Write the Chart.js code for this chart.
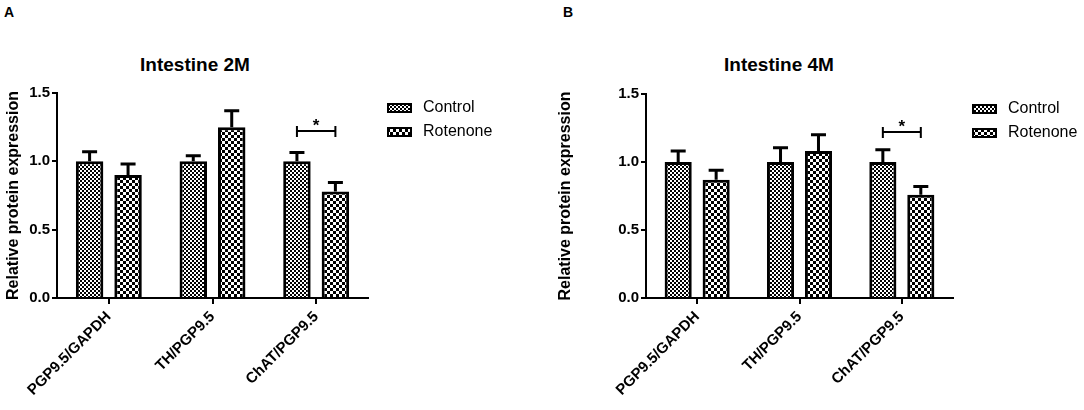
<!DOCTYPE html>
<html>
<head>
<meta charset="utf-8">
<script src="https://cdn.jsdelivr.net/npm/chart.js@4"></script>
<style>
  body { margin: 0; background: #fff; font-family: "Liberation Sans", Arial, sans-serif; }
  #wrap { position: relative; width: 1084px; height: 410px; overflow: hidden; }
  canvas { position: absolute; top: 0; }
  .letter { position: absolute; top: 4px; font-weight: bold; font-size: 14px; }
  .title { position: absolute; top: 54px; width: 240px; text-align: center; font-weight: bold; font-size: 19px; }
</style>
</head>
<body>
<div id="wrap">
  <div class="letter" style="left:4px">A</div>
  <div class="letter" style="left:563px">B</div>
  <div class="title" style="left:75px">Intestine 2M</div>
  <div class="title" style="left:659px">Intestine 4M</div>
  <canvas id="chart2M" width="542" height="410" style="left:0"></canvas>
  <canvas id="chart4M" width="532" height="410" style="left:552px"></canvas>
</div>
<script>
// values
const categories = ['PGP9.5/GAPDH', 'TH/PGP9.5', 'ChAT/PGP9.5'];
const seriesNames = ['Control', 'Rotenone'];
const yTicks = [0, 0.5, 1.0, 1.5];

const control2M = [1.00, 1.00, 1.00];
const control2MErr = [0.07, 0.04, 0.065];
const rotenone2M = [0.90, 1.25, 0.78];
const rotenone2MErr = [0.08, 0.12, 0.065];

const control4M = [1.00, 1.00, 1.00];
const control4MErr = [0.08, 0.105, 0.09];
const rotenone4M = [0.87, 1.08, 0.76];
const rotenone4MErr = [0.07, 0.12, 0.06];

// significance bracket: category index, height, mark
const sigIndex = [2];
const sigLevel2M = [1.22];
const sigLevel4M = [1.22];
const sigMark = ['*'];

const FONT = '"Liberation Sans", Arial, sans-serif';
Chart.defaults.color = '#000';
Chart.defaults.font.family = FONT;

// checkerboard fill for the bars
function checker(cell) {
  const c = document.createElement('canvas');
  c.width = c.height = cell * 2;
  const g = c.getContext('2d');
  g.fillStyle = '#fff';
  g.fillRect(0, 0, cell * 2, cell * 2);
  g.fillStyle = '#000';
  g.fillRect(0, 0, cell, cell);
  g.fillRect(cell, cell, cell, cell);
  return g.createPattern(c, 'repeat');
}
const finePattern = checker(2);
const coarsePattern = checker(3);

// only the upper half of the SEM is drawn
const errorBars = {
  id: 'errorBars',
  afterDatasetsDraw(chart) {
    const ctx = chart.ctx;
    const y = chart.scales.y;
    ctx.save();
    ctx.strokeStyle = '#000';
    ctx.lineWidth = 3;
    chart.data.datasets.forEach((ds, i) => {
      chart.getDatasetMeta(i).data.forEach((bar, j) => {
        const top = y.getPixelForValue(ds.data[j] + ds.errors[j]);
        ctx.beginPath();
        ctx.moveTo(bar.x, bar.y);
        ctx.lineTo(bar.x, top);
        ctx.moveTo(bar.x - 7.5, top);
        ctx.lineTo(bar.x + 7.5, top);
        ctx.stroke();
      });
    });
    ctx.restore();
  }
};

const sigBracket = {
  id: 'sigBracket',
  afterDatasetsDraw(chart, args, opts) {
    const ctx = chart.ctx;
    const y = chart.scales.y;
    ctx.save();
    ctx.strokeStyle = '#000';
    ctx.fillStyle = '#000';
    ctx.lineWidth = 2;
    opts.index.forEach((idx, k) => {
      const x1 = chart.getDatasetMeta(0).data[idx].x;
      const x2 = chart.getDatasetMeta(1).data[idx].x;
      const ly = Math.round(y.getPixelForValue(opts.level[k]));
      ctx.beginPath();
      ctx.moveTo(x1, ly); ctx.lineTo(x2, ly);
      ctx.moveTo(x1, ly - 5); ctx.lineTo(x1, ly + 6);
      ctx.moveTo(x2, ly - 5); ctx.lineTo(x2, ly + 6);
      ctx.stroke();
      ctx.font = 'bold 17px ' + FONT;
      ctx.textAlign = 'center';
      ctx.textBaseline = 'middle';
      ctx.fillText(opts.mark[k], (x1 + x2) / 2, ly - 5);
    });
    ctx.restore();
  }
};

const sideLegend = {
  id: 'sideLegend',
  afterDraw(chart) {
    const ctx = chart.ctx;
    const x = chart.chartArea.right + 19;
    let y = chart.chartArea.top + 10;
    ctx.save();
    chart.data.datasets.forEach(ds => {
      ctx.fillStyle = ds.backgroundColor;
      ctx.fillRect(x, y, 25, 10);
      ctx.strokeStyle = '#000';
      ctx.lineWidth = 2;
      ctx.strokeRect(x + 1, y + 1, 23, 8);
      ctx.fillStyle = '#000';
      ctx.font = '16px ' + FONT;
      ctx.textAlign = 'left';
      ctx.textBaseline = 'middle';
      ctx.fillText(ds.label, x + 36, y + 5);
      y += 24;
    });
    ctx.restore();
  }
};

function makeChart(id, control, controlErr, rotenone, rotenoneErr, sigLevel, axisWidth, padTop, padRight) {
  return new Chart(document.getElementById(id), {
    type: 'bar',
    data: {
      labels: categories,
      datasets: [
        { label: seriesNames[0], data: control, errors: controlErr,
          backgroundColor: finePattern, borderColor: '#000', borderWidth: 3 },
        { label: seriesNames[1], data: rotenone, errors: rotenoneErr,
          backgroundColor: coarsePattern, borderColor: '#000', borderWidth: 3 }
      ]
    },
    options: {
      responsive: false,
      animation: false,
      categoryPercentage: 0.742,
      barPercentage: 0.714,
      layout: { padding: { top: padTop, right: padRight, bottom: 0, left: 0 } },
      plugins: {
        legend: { display: false },
        tooltip: { enabled: false },
        sigBracket: { index: sigIndex, level: sigLevel, mark: sigMark }
      },
      scales: {
        x: {
          grid: { display: true, drawOnChartArea: false, offset: false, tickLength: 6, lineWidth: 2, color: '#000' },
          border: { display: true, color: '#000', width: 2 },
          ticks: { autoSkip: false, minRotation: 45, maxRotation: 45, padding: 4,
                   font: { size: 15, weight: 'bold' } },
          afterFit(scale) { scale.height = 410 - 298; }
        },
        y: {
          min: 0, max: 1.5,
          afterBuildTicks(scale) { scale.ticks = yTicks.map(v => ({ value: v })); },
          grid: { display: true, drawOnChartArea: false, tickLength: 5, lineWidth: 2, color: '#000' },
          border: { display: true, color: '#000', width: 2 },
          ticks: { padding: 2, font: { size: 15, weight: 'bold' },
                   callback: v => v.toFixed(1) },
          title: { display: true, text: 'Relative protein expression',
                   font: { size: 16, weight: 'bold' }, padding: { top: 4, bottom: 0 } },
          afterFit(scale) { scale.width = axisWidth; }
        }
      }
    },
    plugins: [errorBars, sigBracket, sideLegend]
  });
}

makeChart('chart2M', control2M, control2MErr, rotenone2M, rotenone2MErr, sigLevel2M, 57, 93, 542 - 368);
makeChart('chart4M', control4M, control4MErr, rotenone4M, rotenone4MErr, sigLevel4M, 94, 94, 532 - 401);
</script>
</body>
</html>
